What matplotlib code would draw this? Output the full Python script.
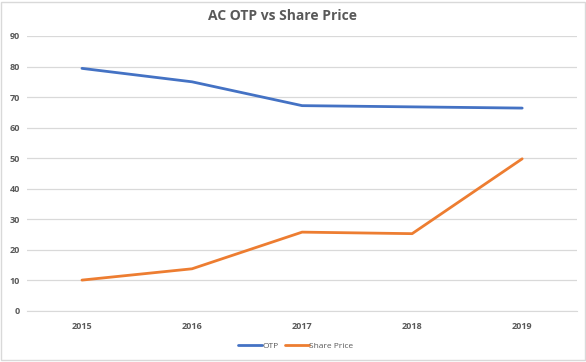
import matplotlib.pyplot as plt

years = ["2015", "2016", "2017", "2018", "2019"]
otp = [79.4, 75.0, 67.2, 66.8, 66.4]
share_price = [10.1, 13.8, 25.8, 25.3, 49.8]

plt.rcParams['font.family'] = ['Open Sans', 'DejaVu Sans']

fig = plt.figure(figsize=(5.86, 3.62), dpi=100)
ax = fig.add_axes([0.046, 0.141, 0.939, 0.7596])

x = range(len(years))
ax.plot(x, otp, color='#4472C4', linewidth=2.0, label='OTP', solid_capstyle='round')
ax.plot(x, share_price, color='#ED7D31', linewidth=2.0, label='Share Price', solid_capstyle='round')

ax.set_xlim(-0.5, len(years) - 0.5)
ax.set_ylim(0, 90)
ax.set_yticks(range(0, 91, 10))
ax.set_xticks(list(x))
ax.set_xticklabels(years)
ax.grid(axis='y', color='#D9D9D9', linewidth=0.9)
ax.set_axisbelow(True)
for s in ['top', 'right', 'left']:
    ax.spines[s].set_visible(False)
ax.spines['bottom'].set_color('#D9D9D9')
ax.tick_params(length=0, colors='#595959', labelsize=6.5)
ax.tick_params(axis='x', pad=8)
ax.tick_params(axis='y', pad=5)
for lbl in ax.get_xticklabels() + ax.get_yticklabels():
    lbl.set_fontweight('bold')

fig.text(0.482, 0.955, "AC OTP vs Share Price", ha='center', va='center',
         fontsize=10, fontweight='bold', color='#595959')

fig.legend(loc='center', bbox_to_anchor=(0.505, 0.045), ncol=2, frameon=False,
           fontsize=6, labelcolor='#595959', handlelength=2.8, handletextpad=0.1,
           columnspacing=0.8)

fig.patches.append(plt.Rectangle((0.002, 0.005), 0.996, 0.99, transform=fig.transFigure,
                                 fill=False, edgecolor='#D9D9D9', linewidth=1))

plt.savefig("out.png", dpi=100)
